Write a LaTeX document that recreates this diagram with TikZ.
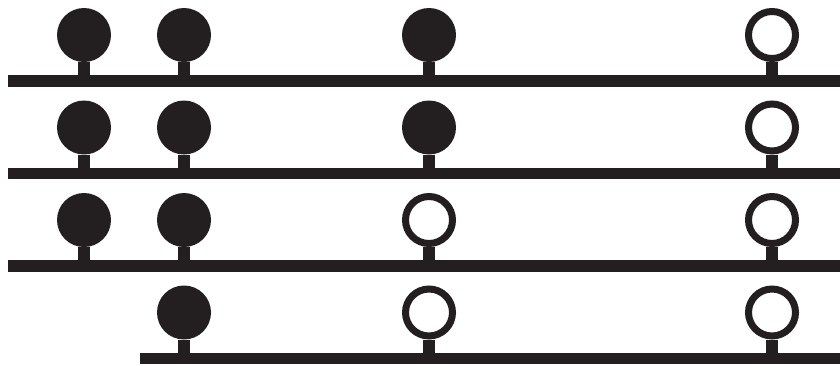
\documentclass[tikz,border=0pt]{standalone}
\usepackage{xcolor}
\usepackage{tikz}
\usetikzlibrary{positioning, calc}
\definecolor{inkblack}{HTML}{231F20}
\tikzset{
  full/.style={circle, fill=inkblack, minimum size=54pt, inner sep=0pt},
  hollow/.style={circle, draw=inkblack, line width=7pt, fill=white, minimum size=47pt, inner sep=0pt},
  rail/.style={draw=inkblack, line width=11.5pt},
  stem/.style={draw=inkblack, line width=12pt}
}

\begin{document}
\begin{tikzpicture}[x=1pt, y=-1pt]
  \useasboundingbox (0,0) rectangle (840,365);
  % rails
  \foreach \r/\y/\xa in {1/81/8, 2/173.5/8, 3/266/8, 4/358.5/140}{
    \coordinate (rail\r w) at (\xa,\y);
    \coordinate (rail\r e) at (840,\y);
    \draw[rail] (rail\r w) -- (rail\r e);
  }
  % pins
  \foreach \p/\x/\y/\kind in {
      1a/84/81/full, 1b/184/81/full, 1c/429/81/full, 1d/772/81/hollow,
      2a/84/173.5/full, 2b/184/173.5/full, 2c/429/173.5/full, 2d/772/173.5/hollow,
      3a/84/266/full, 3b/184/266/full, 3c/429/266/hollow, 3d/772/266/hollow,
      4b/184/358.5/full, 4c/429/358.5/hollow, 4d/772/358.5/hollow}{
    \coordinate (base\p) at (\x,\y);
    \node[\kind] (pin\p) at (\x,{\y-46}) {};
    \draw[stem] (pin\p.south) -- (base\p);
  }
\end{tikzpicture}
\end{document}
